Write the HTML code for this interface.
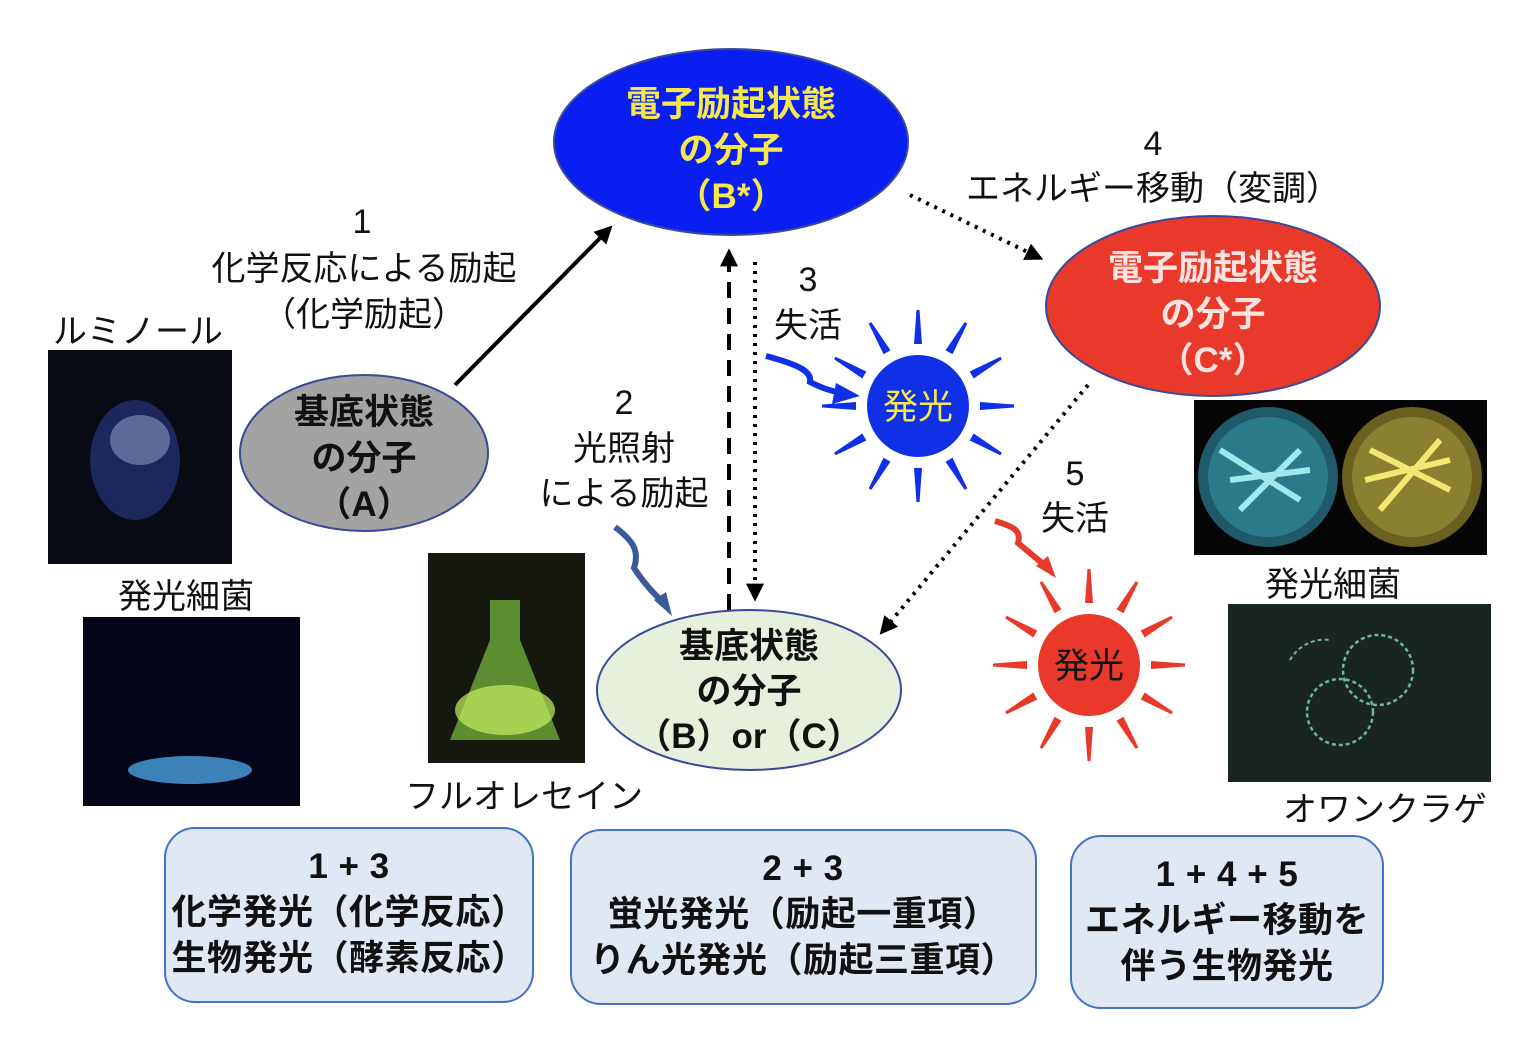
<!DOCTYPE html>
<html><head><meta charset="utf-8"><style>
html,body{margin:0;padding:0;background:#fff}
svg text{font-family:"Liberation Sans","Noto Sans CJK JP",sans-serif}
</style></head><body>
<svg width="1536" height="1053" viewBox="0 0 1536 1053" xmlns="http://www.w3.org/2000/svg">
<defs>
<marker id="ahb" viewBox="0 0 10 10" markerWidth="18" markerHeight="18" refX="8" refY="5" orient="auto" markerUnits="userSpaceOnUse"><path d="M0,0 L10,5 L0,10 z" fill="#000"/></marker>
<g id="rays">
<path d="M-4,-62 L4,-62 L1.5,-96 L-1.5,-96 z"/>
</g>
</defs>

<ellipse cx="731" cy="142" rx="177" ry="93" fill="#0a1ef2" stroke="#3a4a9a" stroke-width="2"/>
<text x="731" y="116" text-anchor="middle" font-size="35" font-weight="bold" fill="#f4e84a">電子励起状態</text>
<text x="731" y="162" text-anchor="middle" font-size="35" font-weight="bold" fill="#f4e84a">の分子</text>
<text x="731" y="208" text-anchor="middle" font-size="35" font-weight="bold" fill="#f4e84a">（B*）</text>

<ellipse cx="1213" cy="306" rx="167" ry="90" fill="#e8392a" stroke="#3a4a9a" stroke-width="2"/>
<text x="1213" y="280" text-anchor="middle" font-size="35" font-weight="bold" fill="#fbe4e0">電子励起状態</text>
<text x="1213" y="326" text-anchor="middle" font-size="35" font-weight="bold" fill="#fbe4e0">の分子</text>
<text x="1213" y="372" text-anchor="middle" font-size="35" font-weight="bold" fill="#fbe4e0">（C*）</text>

<ellipse cx="364" cy="453" rx="124" ry="78" fill="#a3a3a3" stroke="#3a4a9a" stroke-width="2"/>
<text x="364" y="424" text-anchor="middle" font-size="35" font-weight="bold" fill="#111">基底状態</text>
<text x="364" y="470" text-anchor="middle" font-size="35" font-weight="bold" fill="#111">の分子</text>
<text x="364" y="516" text-anchor="middle" font-size="35" font-weight="bold" fill="#111">（A）</text>

<ellipse cx="749" cy="690" rx="152" ry="80" fill="#e7f0dd" stroke="#3a4a9a" stroke-width="2"/>
<text x="749" y="658" text-anchor="middle" font-size="35" font-weight="bold" fill="#111">基底状態</text>
<text x="749" y="703" text-anchor="middle" font-size="35" font-weight="bold" fill="#111">の分子</text>
<text x="749" y="748" text-anchor="middle" font-size="35" font-weight="bold" fill="#111">（B）or（C）</text>

<line x1="455" y1="385" x2="610" y2="228" stroke="#000" stroke-width="4" marker-end="url(#ahb)"/>
<line x1="729" y1="610" x2="729" y2="252" stroke="#000" stroke-width="4" stroke-dasharray="16,10" marker-end="url(#ahb)"/>
<line x1="755" y1="262" x2="755" y2="598" stroke="#000" stroke-width="4" stroke-dasharray="3,6" marker-end="url(#ahb)"/>
<line x1="910" y1="195" x2="1040" y2="258" stroke="#000" stroke-width="4" stroke-dasharray="3,6" marker-end="url(#ahb)"/>
<line x1="1088" y1="385" x2="882" y2="632" stroke="#000" stroke-width="4" stroke-dasharray="3,6" marker-end="url(#ahb)"/>

<path d="M766,356 C800,365 812,372 810,382 C818,386 826,390 842,393" stroke="#1030e8" stroke-width="6" fill="none"/>
<path d="M836,383 L860,396 L832,404 z" fill="#1030e8"/>
<path d="M615,527 C632,540 640,550 634,568 C645,585 655,595 664,603" stroke="#3a5a9a" stroke-width="6" fill="none"/>
<path d="M654,600 L672,616 L666,592 z" fill="#3a5a9a"/>
<path d="M995,521 C1012,526 1022,530 1018,543 C1030,553 1038,560 1046,566" stroke="#e83a2a" stroke-width="6" fill="none"/>
<path d="M1036,566 L1056,578 L1048,556 z" fill="#e83a2a"/>

<g transform="translate(918,406)" fill="#1030e8">
<use href="#rays" transform="rotate(0)"/><use href="#rays" transform="rotate(30)"/><use href="#rays" transform="rotate(60)"/><use href="#rays" transform="rotate(90)"/><use href="#rays" transform="rotate(120)"/><use href="#rays" transform="rotate(150)"/><use href="#rays" transform="rotate(180)"/><use href="#rays" transform="rotate(210)"/><use href="#rays" transform="rotate(240)"/><use href="#rays" transform="rotate(270)"/><use href="#rays" transform="rotate(300)"/><use href="#rays" transform="rotate(330)"/>
<circle r="51"/>
<text y="13" text-anchor="middle" font-size="35" fill="#f4e84a">発光</text>
</g>
<g transform="translate(1089,665)" fill="#e8392a">
<use href="#rays" transform="rotate(0)"/><use href="#rays" transform="rotate(30)"/><use href="#rays" transform="rotate(60)"/><use href="#rays" transform="rotate(90)"/><use href="#rays" transform="rotate(120)"/><use href="#rays" transform="rotate(150)"/><use href="#rays" transform="rotate(180)"/><use href="#rays" transform="rotate(210)"/><use href="#rays" transform="rotate(240)"/><use href="#rays" transform="rotate(270)"/><use href="#rays" transform="rotate(300)"/><use href="#rays" transform="rotate(330)"/>
<circle r="51"/>
<text y="13" text-anchor="middle" font-size="35" fill="#111">発光</text>
</g>

<g font-size="34" fill="#111" text-anchor="middle">
<text x="362" y="233">1</text>
<text x="364" y="280">化学反応による励起</text>
<text x="364" y="326">（化学励起）</text>
<text x="808" y="291">3</text>
<text x="808" y="337">失活</text>
<text x="624" y="414">2</text>
<text x="624" y="460">光照射</text>
<text x="624" y="505">による励起</text>
<text x="1153" y="155">4</text>
<text x="1153" y="200">エネルギー移動（変調）</text>
<text x="1075" y="485">5</text>
<text x="1075" y="530">失活</text>
<text x="138" y="343">ルミノール</text>
<text x="186" y="608">発光細菌</text>
<text x="524" y="808">フルオレセイン</text>
<text x="1333" y="596">発光細菌</text>
<text x="1385" y="821">オワンクラゲ</text>
</g>

<rect x="48" y="350" width="184" height="214" fill="#080a14"/>
<ellipse cx="135" cy="460" rx="45" ry="60" fill="#2a3a8a" opacity="0.6"/>
<ellipse cx="140" cy="440" rx="30" ry="25" fill="#8a96c0" opacity="0.6"/>
<rect x="83" y="617" width="217" height="189" fill="#05051a"/>
<ellipse cx="190" cy="770" rx="62" ry="14" fill="#4aa0e0" opacity="0.8"/>
<rect x="428" y="553" width="157" height="210" fill="#14180f"/>
<path d="M490,600 L520,600 L520,640 L560,740 L450,740 L490,640 z" fill="#7ac040" opacity="0.7"/>
<ellipse cx="505" cy="710" rx="50" ry="25" fill="#c8f060" opacity="0.7"/>
<rect x="1194" y="400" width="293" height="155" fill="#050505"/>
<circle cx="1268" cy="477" r="70" fill="#1e5a6a"/>
<circle cx="1268" cy="477" r="60" fill="#2a7a8a"/>
<path d="M1220,450 L1300,500 M1230,480 L1310,470 M1240,510 L1300,450" stroke="#a0e8f0" stroke-width="6"/>
<circle cx="1412" cy="477" r="70" fill="#6a6020"/>
<circle cx="1412" cy="477" r="60" fill="#8a8030"/>
<path d="M1370,450 L1450,490 M1365,480 L1450,460 M1380,510 L1440,440" stroke="#f0e870" stroke-width="6"/>
<rect x="1228" y="604" width="263" height="178" fill="#1a2420"/>
<circle cx="1378" cy="670" r="35" fill="none" stroke="#6ab8a0" stroke-width="2.5" stroke-dasharray="4,3"/>
<circle cx="1340" cy="712" r="33" fill="none" stroke="#6ab8a0" stroke-width="2.5" stroke-dasharray="4,3"/>
<path d="M1290,660 A40,40 0 0 1 1330,640" fill="none" stroke="#6ab8a0" stroke-width="2" stroke-dasharray="4,3"/>

<rect x="165" y="828" width="368" height="174" rx="30" fill="#dfe8f3" stroke="#4472c4" stroke-width="2"/>
<rect x="571" y="830" width="465" height="174" rx="30" fill="#dfe8f3" stroke="#4472c4" stroke-width="2"/>
<rect x="1071" y="836" width="312" height="172" rx="30" fill="#dfe8f3" stroke="#4472c4" stroke-width="2"/>
<g font-size="35" font-weight="bold" fill="#111" text-anchor="middle" letter-spacing="0.5">
<text x="349" y="878">1 + 3</text>
<text x="349" y="924">化学発光（化学反応）</text>
<text x="349" y="970">生物発光（酵素反応）</text>
<text x="803" y="880">2 + 3</text>
<text x="803" y="926">蛍光発光（励起一重項）</text>
<text x="803" y="972">りん光発光（励起三重項）</text>
<text x="1227" y="886">1 + 4 + 5</text>
<text x="1227" y="932">エネルギー移動を</text>
<text x="1227" y="978">伴う生物発光</text>
</g>
</svg>
</body></html>
